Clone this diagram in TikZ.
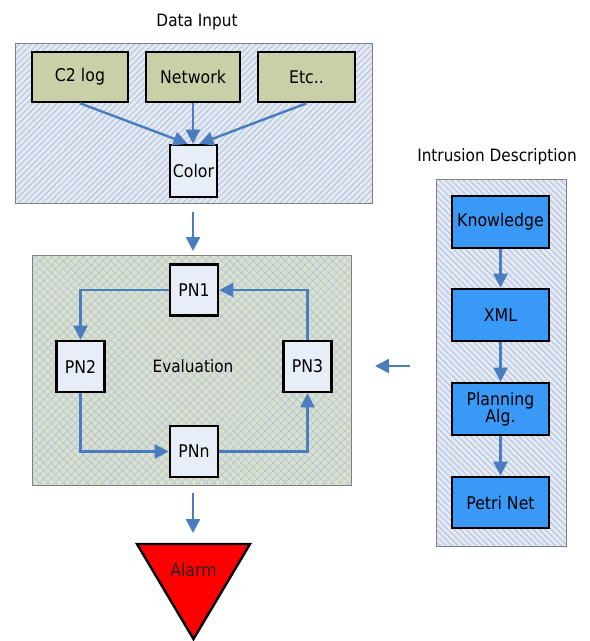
\documentclass[tikz,border=0pt]{standalone}
\usepackage{fontspec}
\setmainfont{DejaVu Sans}[FakeStretch=0.9]
\usetikzlibrary{arrows.meta,patterns.meta}

\definecolor{panelbg}{HTML}{E4EAF5}
\definecolor{hatch}{HTML}{B6C3D8}
\definecolor{evalbg}{HTML}{DCE2C6}
\definecolor{evalhatch}{HTML}{B4C5E2}
\definecolor{olive}{HTML}{C9CFA6}
\definecolor{paleblue}{HTML}{E8EEF7}
\definecolor{brightblue}{HTML}{3A98F6}
\definecolor{flow}{HTML}{4A7DC0}
\definecolor{alarmred}{HTML}{FF0000}

\tikzset{
  box/.style={draw=black, line width=2.6pt, inner sep=0pt, align=center,
    font=\fontsize{17.5}{18.5}\selectfont},
  srcbox/.style={box, fill=olive, minimum height=50pt},
  pnbox/.style={box, fill=paleblue, minimum width=48pt, minimum height=51pt},
  descbox/.style={box, fill=brightblue, minimum width=97pt, minimum height=52pt},
  panel/.style={draw=gray, line width=1pt},
  title/.style={font=\fontsize{17}{18}\selectfont, text=black},
  flowline/.style={draw=flow, line width=2.4pt,
    -{Triangle[length=14pt,width=14pt]}},
}

\begin{document}
\begin{tikzpicture}[x=1pt,y=-1pt]
\useasboundingbox (0,0) rectangle (590,641);

% ---- panels ----
\fill[panelbg] (15,43) rectangle (372,203);
\fill[pattern={Lines[angle=45,distance=4.3pt,line width=1pt]}, pattern color=hatch]
  (15,43) rectangle (372,203);
\draw[panel] (15,43) rectangle (372,203);

\fill[evalbg] (32,255) rectangle (351,485);
\fill[pattern={Lines[angle=45,distance=5.6pt,line width=0.8pt]}, pattern color=evalhatch]
  (32,255) rectangle (351,485);
\fill[pattern={Lines[angle=-45,distance=5.6pt,line width=0.8pt]}, pattern color=evalhatch]
  (32,255) rectangle (351,485);
\draw[panel] (32,255) rectangle (351,485);

\fill[panelbg] (436,179) rectangle (566,546);
\fill[pattern={Lines[angle=-45,distance=4.3pt,line width=1pt]}, pattern color=hatch]
  (436,179) rectangle (566,546);
\draw[panel] (436,179) rectangle (566,546);

% ---- titles ----
\node[title] (tin)  at (197,22)  {Data Input};
\node[title] (tdesc) at (497,157) {Intrusion Description};
\node[title] (teval) at (193,366) {Evaluation};

% ---- data input ----
\node[srcbox, minimum width=96pt] (c2)  at (80,77)    {C2 log};
\node[srcbox, minimum width=94pt] (net) at (193,77)   {Network};
\node[srcbox, minimum width=97pt] (etc) at (306.5,77) {Etc..};
\node[pnbox, minimum width=47pt, minimum height=52pt] (color) at (193.5,171) {Color};

\draw[flowline] (c2.south)  -- ([xshift=-6pt]color.north);
\draw[flowline] (net.south) -- ([xshift=-0.5pt]color.north);
\draw[flowline] (etc.south) -- ([xshift=6pt]color.north);

% ---- evaluation ring ----
\node[pnbox] (pn1) at (194,290)     {PN1};
\node[pnbox] (pn2) at (80.5,366.5)  {PN2};
\node[pnbox] (pn3) at (307.5,366.5) {PN3};
\node[pnbox] (pnn) at (194,451.5)   {PNn};

\draw[flowline] (pn1.west) -| (pn2.north);
\draw[flowline] (pn2.south) |- (pnn.west);
\draw[flowline] (pnn.east) -| (pn3.south);
\draw[flowline] (pn3.north) |- (pn1.east);

% ---- intrusion description ----
\node[descbox] (know)  at (500.5,222)   {Knowledge};
\node[descbox] (xml)   at (500.5,315)   {XML};
\node[descbox] (plan)  at (500.5,409)   {Planning\\[-1pt]Alg.};
\node[descbox, minimum height=51pt] (petri) at (500.5,502.5) {Petri Net};

\draw[flowline] (know.south) -- (xml.north);
\draw[flowline] (xml.south)  -- (plan.north);
\draw[flowline] (plan.south) -- (petri.north);

% ---- links between panels ----
\coordinate (inA) at (193,212);
\coordinate (inB) at (193,251);
\draw[flowline] (inA) -- (inB);

\coordinate (dsA) at (410,366);
\coordinate (dsB) at (375,366);
\draw[flowline] (dsA) -- (dsB);

\coordinate (evA) at (193,493);
\coordinate (evB) at (193,533);
\draw[flowline] (evA) -- (evB);

% ---- alarm ----
\draw[fill=alarmred, line width=2.4pt, line join=miter]
  (137,544) -- (250,544) -- (193.5,639) -- cycle;
\node[font=\fontsize{17.5}{18.5}\selectfont, text=black!85] (alarm) at (193.5,570) {Alarm};
\end{tikzpicture}
\end{document}
